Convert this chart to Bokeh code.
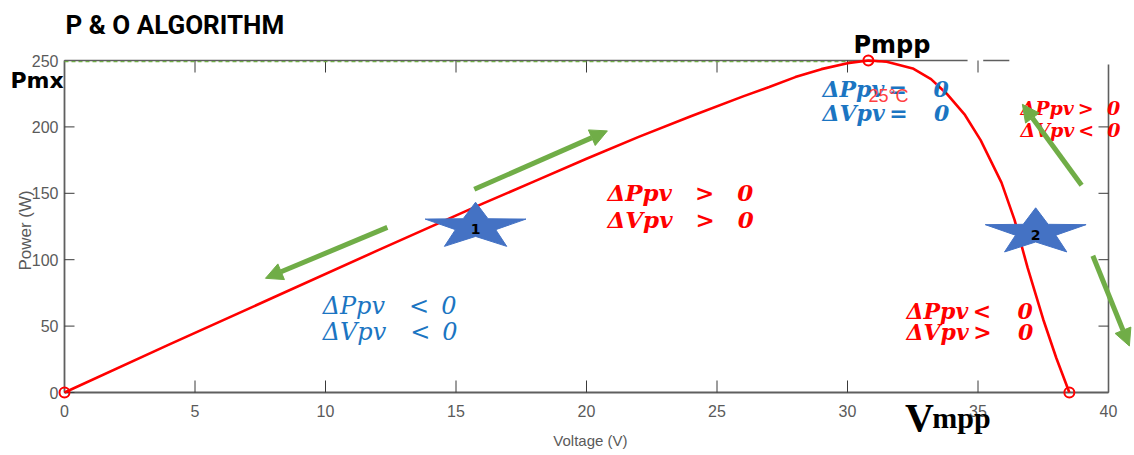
import math
from bokeh.plotting import figure
from bokeh.models import Range1d, Arrow, NormalHead, ColumnDataSource
from bokeh.embed import file_html
from bokeh.resources import INLINE
from bokeh.core.properties import value

# ---------------- data ----------------
voltage = [0, 4, 8, 12, 16, 18, 20, 22, 24, 26, 27, 28, 29, 30, 30.8, 31.5, 32.5, 33.2,
           33.8, 34.5, 35.1, 35.9, 36.4, 36.9, 37.5, 38.0, 38.5]
power = [0, 36, 71.5, 107, 142, 159, 176, 192.5, 208, 223, 230, 237.5, 243.5, 248, 250, 249,
         244, 236, 225, 209, 190, 158, 130, 94, 55, 26, 0]

marker_v = [0, 30.8, 38.5]
marker_p = [0, 250, 0]

x_ticks = [0, 5, 10, 15, 20, 25, 30, 35, 40]
x_tick_labels = ["0", "5", "10", "15", "20", "25", "30", "35", "40"]
y_ticks = [0, 50, 100, 150, 200, 250]
y_tick_labels = ["0", "50", "100", "150", "200", "250"]
top_ticks = [5, 10, 15, 20, 25, 30, 35]
right_ticks = [50, 100, 150, 200]

x_max = 40
y_max = 250
top_line_v = [0, 34.6]
top_dash_v = [35.2, 36.2]
green_dash_v = [0, 31.6]

star_v = [15.75, 37.21]
star_p = [124.9, 120.7]
star_labels = ["1", "2"]

arrow_v0 = [12.37, 15.7, 38.97, 39.4]
arrow_p0 = [124.3, 153, 156, 103]
arrow_v1 = [7.7, 20.8, 36.7, 40.8]
arrow_p1 = [86, 197, 217, 35]

# text blocks
red_mid_text = ["ΔPpv\u2003>\u20030", "ΔVpv\u2003>\u20030"]
red_mid_v = [20.8, 20.8]
red_mid_p = [150.6, 130.3]

blue_low_text = ["ΔPpv\u2003<\u20020", "ΔVpv\u2003<\u20020"]
blue_low_v = [9.89, 9.89]
blue_low_p = [65.5, 45.2]

blue_top_text = ["ΔPpv\u2009=\u2003\u20090", "ΔVpv\u2009=\u2003\u20090"]
blue_top_v = [29.04, 29.04]
blue_top_p = [228.9, 210.8]

red_lr_text = ["ΔPpv\u2009<\u2003\u20090", "ΔVpv\u2009>\u2003\u20090"]
red_lr_v = [32.26, 32.26]
red_lr_p = [61.7, 45.2]

red_ur_text = ["ΔPpv\u2009>\u2002\u20090", "ΔVpv\u2009<\u2002\u20090"]
red_ur_v = [36.63, 36.63]
red_ur_p = [213.9, 198.0]

# ---------------- figure ----------------
PX_PER_V = 26.1
PX_PER_W = 1.328
W, H = 1134, 455
X0_PX, Y0_PX = 64, 392  # pixel position of (0 V, 0 W)

p = figure(width=W, height=H,
           x_range=Range1d(-X0_PX / PX_PER_V, (W - X0_PX) / PX_PER_V),
           y_range=Range1d(-(H - Y0_PX) / PX_PER_W, Y0_PX / PX_PER_W),
           x_axis_location=None, y_axis_location=None,
           output_backend="svg", toolbar_location=None, min_border=0)
p.outline_line_color = None
p.xgrid.grid_line_color = None
p.ygrid.grid_line_color = None
p.background_fill_color = "white"
p.border_fill_color = "white"

AX_COLOR = "#5f5f5f"
TICK_COLOR = "#3a3a3a"
LBL_COLOR = "#5a5a5a"
LBL_FONT = value("Liberation Sans")

# ---- axes drawn as glyphs ----
# bottom
p.segment(x0=[0], y0=[0], x1=[x_max], y1=[0], line_color=AX_COLOR, line_width=1.8)
p.segment(x0=x_ticks, y0=[0] * len(x_ticks), x1=x_ticks, y1=[12 / PX_PER_W] * len(x_ticks),
          line_color=TICK_COLOR, line_width=1)
p.text(x_ticks, [-18 / PX_PER_W] * len(x_ticks), text=x_tick_labels, text_font=LBL_FONT,
       text_font_size="16px", text_color=LBL_COLOR, text_align="center", text_baseline="middle")
# left
p.segment(x0=[0], y0=[0], x1=[0], y1=[y_max], line_color=AX_COLOR, line_width=1.8)
p.segment(x0=[0] * len(y_ticks), y0=y_ticks, x1=[10 / PX_PER_V] * len(y_ticks), y1=y_ticks,
          line_color=TICK_COLOR, line_width=1)
p.text([-6 / PX_PER_V] * len(y_ticks), y_ticks, text=y_tick_labels, text_font=LBL_FONT,
       text_font_size="16px", text_color=LBL_COLOR, text_align="right", text_baseline="middle")
# axis titles
p.text([20.15], [-48 / PX_PER_W], text=["Voltage (V)"], text_font=LBL_FONT, text_font_size="15px",
       text_color=LBL_COLOR, text_align="center", text_baseline="middle")
p.text([-39 / PX_PER_V], [122], text=["Power (W)"], text_font=LBL_FONT, text_font_size="17px",
       text_color=LBL_COLOR, text_align="center", text_baseline="middle", angle=math.pi / 2)
# top line with gap + dash, ticks
p.segment(x0=[top_line_v[0]], y0=[y_max], x1=[top_line_v[1]], y1=[y_max],
          line_color=AX_COLOR, line_width=1.6)
p.segment(x0=[top_dash_v[0]], y0=[y_max], x1=[top_dash_v[1]], y1=[y_max],
          line_color=AX_COLOR, line_width=1.6)
p.segment(x0=top_ticks, y0=[y_max] * len(top_ticks), x1=top_ticks,
          y1=[y_max - 12 / PX_PER_W] * len(top_ticks), line_color=TICK_COLOR, line_width=1)
# right
p.segment(x0=[x_max], y0=[0], x1=[x_max], y1=[y_max - 3], line_color=AX_COLOR, line_width=1.6)
p.segment(x0=[x_max] * len(right_ticks), y0=right_ticks,
          x1=[x_max - 10 / PX_PER_V] * len(right_ticks), y1=right_ticks,
          line_color=TICK_COLOR, line_width=1)

# green dashed Pmx line
p.line(green_dash_v, [y_max - 0.8] * 2, line_color="#70AD47", line_width=1.3, line_dash="4 3")

# P-V curve
p.line(voltage, power, line_color="#FF0000", line_width=2.6, line_join="round")
p.scatter(marker_v, marker_p, marker="circle", size=10, fill_color=None,
          line_color="#FF0000", line_width=2)

# stars
RX, RY = 53 / PX_PER_V, 24.4 / PX_PER_W
xs, ys = [], []
for cv, cp in zip(star_v, star_p):
    sx, sy = [], []
    for k in range(10):
        ang = math.radians(90 + 36 * k)
        r = 1.0 if k % 2 == 0 else 0.40
        sx.append(cv + r * RX * math.cos(ang))
        sy.append(cp + r * RY * math.sin(ang))
    xs.append(sx)
    ys.append(sy)
p.patches(xs, ys, fill_color="#4472C4", line_color="#4472C4", line_width=1)
p.text(star_v, [sp - 2 for sp in star_p], text=star_labels, text_align="center",
       text_baseline="middle", text_font=value("DejaVu Sans"), text_font_style="bold",
       text_font_size="14px", text_color="black")

# green arrows
asrc = ColumnDataSource(dict(x0=arrow_v0, y0=arrow_p0, x1=arrow_v1, y1=arrow_p1))
p.add_layout(Arrow(end=NormalHead(size=17, fill_color="#70AD47", line_color="#70AD47"),
                   x_start="x0", y_start="y0", x_end="x1", y_end="y1", source=asrc,
                   line_color="#70AD47", line_width=5))

MATH_FONT = value("DejaVu Serif")
BLUE = "#1B75C2"
RED = "#FF0000"


def mtext(vs, ps, txt, color, size, style):
    p.text(vs, ps, text=txt, text_font=MATH_FONT, text_font_size=size, text_font_style=style,
           text_color=color, text_align="left", text_baseline="middle")


mtext(red_mid_v, red_mid_p, red_mid_text, RED, "23px", "bold italic")
mtext(blue_low_v, blue_low_p, blue_low_text, BLUE, "24px", "italic")
mtext(blue_top_v, blue_top_p, blue_top_text, BLUE, "22px", "bold italic")
mtext(red_lr_v, red_lr_p, red_lr_text, RED, "22px", "bold italic")
mtext(red_ur_v, red_ur_p, red_ur_text, RED, "19px", "bold italic")

p.text([30.8], [223], text=["25°C"], text_font=LBL_FONT, text_font_size="18px",
       text_color="#FF4040", text_align="left", text_baseline="middle")

# titles and markers' names
p.text([0.04], [276.4], text=["P & O ALGORITHM"], text_font=value("Roboto"),
       text_font_size="26px", text_font_style="bold", text_color="black",
       text_align="left", text_baseline="middle")
p.text([-2.07], [235], text=["Pmx"], text_font=value("DejaVu Sans"), text_font_size="22px",
       text_font_style="bold", text_color="black", text_align="left", text_baseline="middle")
p.text([30.23], [262], text=["Pmpp"], text_font=value("DejaVu Sans"), text_font_size="24px",
       text_font_style="bold", text_color="black", text_align="left", text_baseline="middle")
p.text([32.2], [-18.8], text=["V"], text_font=value("Liberation Serif"), text_font_size="40px",
       text_font_style="bold", text_color="black", text_align="left", text_baseline="alphabetic")
p.text([33.25], [-18.8], text=["mpp"], text_font=value("Liberation Serif"), text_font_size="30px",
       text_font_style="bold", text_color="black", text_align="left", text_baseline="alphabetic")

open("out.html", "w").write(file_html(p, INLINE))
